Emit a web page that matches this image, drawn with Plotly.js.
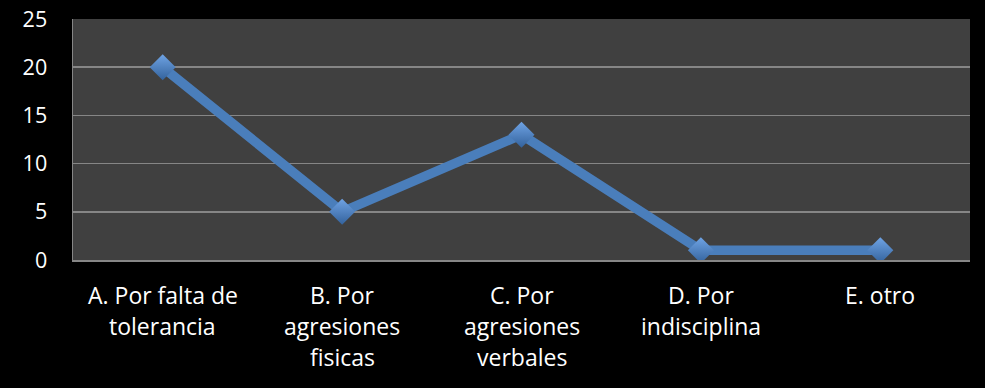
<!DOCTYPE html>
<html>
<head>
<meta charset="utf-8">
<script src="https://cdn.plot.ly/plotly-3.0.1.min.js"></script>
<style>
  html, body { margin: 0; padding: 0; background: #000; }
  #chart { width: 985px; height: 388px; }
</style>
</head>
<body>
<div id="chart"></div>
<script>
// Motivos y número de casos
const categories = ["A", "B", "C", "D", "E"];
const labelLines = [
  ["A. Por falta de", "tolerancia"],
  ["B. Por", "agresiones", "fisicas"],
  ["C. Por", "agresiones", "verbales"],
  ["D. Por", "indisciplina"],
  ["E. otro"]
];
const values = [20, 5, 13, 1, 1];
const yTicks = [0, 5, 10, 15, 20, 25];

const FONT = "Open Sans, Noto Sans, sans-serif";
const GRID = "#868686";
const LINE_BLUE = "#4a7ebb";

const trace = {
  x: categories,
  y: values,
  type: "scatter",
  mode: "lines+markers",
  line: { color: LINE_BLUE, width: 9.5 },
  marker: {
    symbol: "diamond",
    size: 20,
    color: "#6fa3e4",
    gradient: { type: "vertical", color: "#33629c" },
    line: { width: 0 }
  },
  hoverinfo: "x+y",
  showlegend: false
};

// Category labels, one annotation per text line beneath each category
const lineOffsets = [-35, -66, -97];
const annotations = [];
labelLines.forEach((lines, i) => {
  lines.forEach((txt, j) => {
    annotations.push({
      x: categories[i], xref: "x",
      y: 0, yref: "paper",
      yanchor: "middle", xanchor: "center",
      yshift: lineOffsets[j],
      text: txt, showarrow: false,
      font: { family: FONT, size: 23, color: "#ffffff" }
    });
  });
});

const layout = {
  width: 985,
  height: 388,
  paper_bgcolor: "#000000",
  plot_bgcolor: "#404040",
  margin: { l: 73, r: 15, t: 19, b: 128 },
  font: { family: FONT, color: "#ffffff" },
  xaxis: {
    type: "category",
    range: [-0.5, 4.5],
    showticklabels: false,
    showgrid: false,
    zeroline: false,
    showline: true,
    linecolor: GRID,
    linewidth: 1.5,
    ticks: ""
  },
  yaxis: {
    range: [0, 25],
    tickvals: yTicks,
    ticktext: yTicks.map(String),
    showgrid: true,
    gridcolor: GRID,
    gridwidth: 1.5,
    zeroline: false,
    showline: true,
    linecolor: GRID,
    linewidth: 1.5,
    ticks: "outside",
    ticklen: 20,
    tickcolor: "rgba(0,0,0,0)",
    tickfont: { family: FONT, size: 21.5, color: "#ffffff" }
  },
  annotations: annotations
};

Plotly.newPlot("chart", [trace], layout, { displayModeBar: false, staticPlot: true });
</script>
</body>
</html>
